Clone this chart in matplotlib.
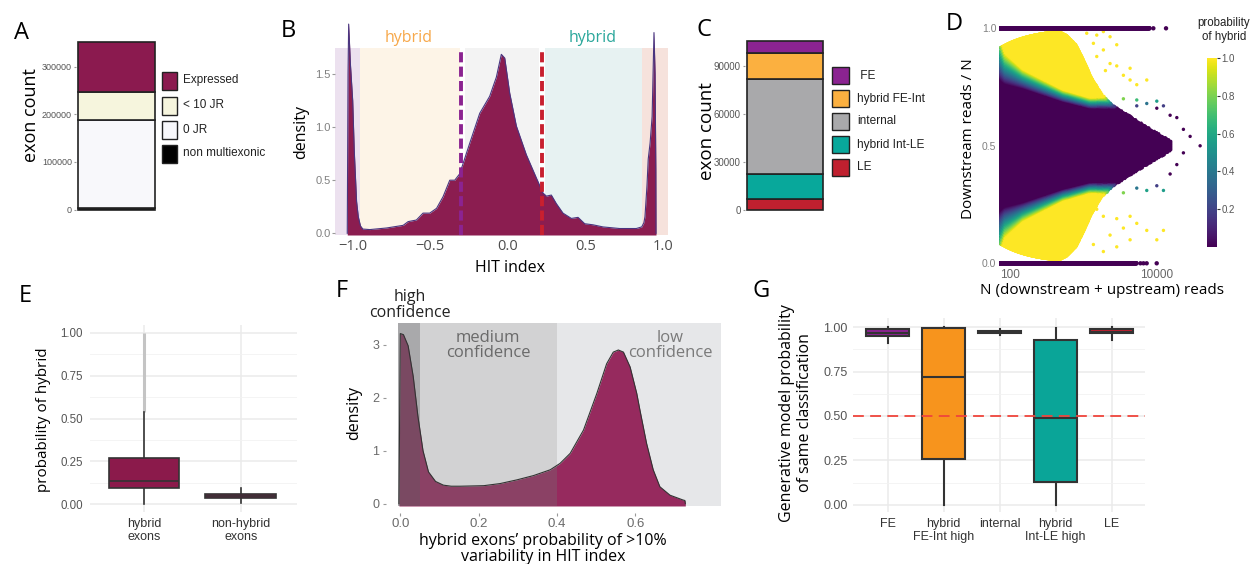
import numpy as np
import matplotlib
matplotlib.use("Agg")
import matplotlib.pyplot as plt
from matplotlib.patches import Rectangle

# ---------------- data ----------------
# A: exon counts by expression status (stacked bottom -> top)
a_labels = ['non multiexonic', '0 JR', '< 10 JR', 'Expressed']
a_counts = [4000, 184000, 59000, 105000]
a_colors = ['#000000', '#f8f8fb', '#f6f5dd', '#8b1a4f']

# B: density of HIT index
b_hit = [-1.035, -1.030, -1.026, -1.015, -1.000, -0.990, -0.975, -0.964, -0.950, -0.935,
         -0.890, -0.782, -0.675, -0.643, -0.590, -0.547, -0.504, -0.460, -0.418, -0.375,
         -0.343, -0.311, -0.246, -0.182, -0.118, -0.075, -0.043, -0.021, 0.011, 0.054,
         0.118, 0.183, 0.225, 0.247, 0.279, 0.311, 0.354, 0.408, 0.451, 0.494,
         0.547, 0.612, 0.719, 0.826, 0.861, 0.875, 0.882, 0.895, 0.903, 0.915,
         0.928, 0.940, 0.947, 0.952, 0.953]
b_density = [0.0, 1.50, 1.97, 1.60, 1.25, 0.78, 0.30, 0.156, 0.07, 0.04,
             0.035, 0.05, 0.075, 0.11, 0.125, 0.19, 0.19, 0.235, 0.345, 0.50,
             0.50, 0.56, 0.85, 1.13, 1.29, 1.47, 1.685, 1.65, 1.32, 1.01,
             0.74, 0.52, 0.38, 0.35, 0.36, 0.28, 0.19, 0.14, 0.15, 0.09,
             0.08, 0.06, 0.045, 0.045, 0.06, 0.10, 0.156, 0.45, 0.70, 0.85,
             1.10, 1.89, 1.50, 0.60, 0.0]
b_zone_lo = [-1.114, -0.950, -0.277, 0.238, 0.861]
b_zone_hi = [-0.950, -0.310, 0.202, 0.861, 1.030]
b_zone_colors = ['#ece1ef', '#fdf4e7', '#f3f3f3', '#e7f2f2', '#f6e2dc']
b_cut_fe, b_cut_le = -0.30, 0.22

# C: exon counts by classification (stacked bottom -> top)
c_labels = ['LE', 'hybrid Int-LE', 'internal', 'hybrid FE-Int', ' FE']
c_counts = [6800, 15300, 59400, 16200, 7900]
c_colors = ['#c0202f', '#08a89b', '#a9a9ab', '#fbb040', '#8b2391']

# D: read totals / downstream fraction lattice description
d_kmin = 6
d_env_N = [68, 300, 450, 600, 800, 1000, 1300, 1800, 2500, 3500, 5000, 7500, 11000, 16000]
d_env_half = [0.50, 0.50, 0.49, 0.47, 0.43, 0.37, 0.29, 0.22, 0.175, 0.145, 0.115, 0.08, 0.05, 0.02]
d_mid_N = [68, 85, 150, 530, 1230, 4350, 40000]
d_mid_half = [0.39, 0.33, 0.287, 0.216, 0.185, 0.185, 0.19]
d_ramp = [0.20, 0.13, 0.08, 0.05, 0.045, 0.05, 0.06]
d_top_end, d_bottom_end = 8000, 5350
d_top_extra_N = [9000, 13400]
d_bottom_extra_N = [6000, 6600, 7300, 10000]
d_sparse_N = [1112, 1523, 1875, 2313, 1371, 1875, 2852, 2313, 2852, 3516, 4337, 5348, 7320, 1523, 2000, 4337,
              3516, 5348, 7320, 10030, 12360, 5348, 10030,
              15240, 18800, 23130, 28560, 39080, 23130, 18800, 15240,
              1523, 1875, 2852, 3516, 4337, 5348, 7320, 10030, 12360, 2313, 1371, 1875, 2852, 4337,
              3516, 5348, 7320, 10030, 12360]
d_sparse_frac = [0.979, 0.971, 0.986, 0.964, 0.936, 0.908, 0.930, 0.850, 0.840, 0.800, 0.780, 0.760, 0.780, 0.880, 0.820, 0.830,
                 0.700, 0.695, 0.680, 0.690, 0.670, 0.670, 0.660,
                 0.630, 0.620, 0.570, 0.540, 0.500, 0.470, 0.420, 0.380,
                 0.230, 0.200, 0.190, 0.150, 0.200, 0.170, 0.140, 0.100, 0.140, 0.120, 0.080, 0.050, 0.070, 0.100,
                 0.300, 0.320, 0.310, 0.330, 0.310]

# E: probability of hybrid, box statistics
e_groups = ['hybrid\nexons', 'non-hybrid\nexons']
e_whislo = [0.0, 0.008]
e_q1 = [0.093, 0.038]
e_med = [0.136, 0.050]
e_q3 = [0.272, 0.062]
e_whishi = [0.54, 0.095]
e_flier_max = [1.0, 0.095]

# F: density of probability of >10% variability
f_prob = [-0.0035, 0.0, 0.008, 0.020, 0.033, 0.045, 0.058, 0.072, 0.090, 0.110,
          0.130, 0.153, 0.213, 0.255, 0.298, 0.340, 0.383, 0.408, 0.434, 0.468,
          0.502, 0.527, 0.544, 0.557, 0.570, 0.587, 0.604, 0.612, 0.629, 0.646,
          0.663, 0.689, 0.722, 0.727, 0.728]
f_density = [0.0, 3.21, 3.19, 2.98, 2.40, 1.65, 1.00, 0.60, 0.42, 0.35,
             0.33, 0.33, 0.34, 0.38, 0.45, 0.53, 0.64, 0.76, 0.95, 1.39,
             2.08, 2.64, 2.86, 2.90, 2.86, 2.58, 2.08, 1.77, 1.14, 0.64,
             0.32, 0.16, 0.07, 0.06, 0.0]
f_high_cut, f_med_cut, f_end = 0.051, 0.40, 0.818

# G: generative model probability of same classification
g_classes = ['FE', 'hybrid\nFE-Int high', 'internal', 'hybrid\nInt-LE high', 'LE']
g_whislo = [0.914, 0.0, 0.955, 0.0, 0.929]
g_q1 = [0.951, 0.256, 0.970, 0.126, 0.966]
g_med = [0.966, 0.718, 0.976, 0.487, 0.976]
g_q3 = [0.989, 0.994, 0.981, 0.929, 0.992]
g_whishi = [1.0, 1.0, 0.990, 0.994, 1.0]
g_colors = ['#8b2391', '#f7941d', '#a8a8aa', '#0aa598', '#c0202f']

# ---------------- layout helpers ----------------
W, H = 1252, 564
plt.rcParams['font.family'] = ['Open Sans', 'DejaVu Sans']
HELV = ['Liberation Sans', 'DejaVu Sans']
fig = plt.figure(figsize=(W / 100, H / 100), dpi=100)


def add_ax(l, t, r, b, **kw):
    ax = fig.add_axes([l / W, 1 - b / H, (r - l) / W, (b - t) / H], **kw)
    ax.set_facecolor('none')
    for s in ax.spines.values():
        s.set_visible(False)
    return ax


def lin_lims(v0, p0, v1, p1, pa, pb):
    k = (v1 - v0) / (p1 - p0)
    return v0 + (pa - p0) * k, v0 + (pb - p0) * k


def ftext(x, y, s, **kw):
    return fig.text(x / W, 1 - y / H, s, **kw)


def frect(x0, y0, x1, y1, **kw):
    fig.add_artist(Rectangle((x0 / W, 1 - y1 / H), (x1 - x0) / W, (y1 - y0) / H,
                             transform=fig.transFigure, **kw))


def tick_font(ax, axis, family=HELV):
    labs = ax.get_yticklabels() if axis == 'y' else ax.get_xticklabels()
    for t in labs:
        t.set_family(family)


# panel letters
for lab, x, y in [('A', 21, 39), ('B', 288, 37), ('C', 704, 36), ('D', 954, 30),
                  ('E', 25, 302), ('F', 342, 297), ('G', 761, 297)]:
    ftext(x, y, lab, fontsize=17, ha='center', va='baseline')

# ---------------- A ----------------
axA = add_ax(76, 30, 157, 212)
bottom = 0
for n, c in zip(a_counts, a_colors):
    axA.bar(0, n, bottom=bottom, width=1, color=c, edgecolor='#222222', lw=1.2)
    bottom += n
axA.set_xlim(-0.5 - 2 / 77, 0.5 + 2 / 77)
axA.set_ylim(*lin_lims(0, 209.5, 300000, 66.8, 212, 30))
axA.set_xticks([])
axA.set_yticks([0, 100000, 200000, 300000])
axA.set_yticklabels(['0', '100000', '200000', '300000'])
axA.tick_params(axis='y', length=1.5, pad=1.5, labelsize=6.5, labelcolor='#555555', color='#999999')
tick_font(axA, 'y')
ftext(31, 115, 'exon count', rotation=90, ha='center', va='center', fontsize=13)
for lab, c, yc in zip(a_labels[::-1], a_colors[::-1], [80.5, 105.5, 129.5, 153.5]):
    frect(161.7, yc - 9, 177.3, yc + 9, facecolor=c, edgecolor='#222222', lw=1.0)
    ftext(183, yc, lab, fontsize=8.5, va='center', ha='left', family=HELV, color='#222222')

# ---------------- B ----------------
axB = add_ax(335, 15, 668, 235)
axB.set_xlim(*lin_lims(-1.0, 352.7, 1.0, 663.3, 335, 668))
axB.set_ylim(*lin_lims(0.0, 233.3, 1.5, 74.0, 235, 15))
y_lo, y_hi = -0.016, 1.748
for lo, hi, c in zip(b_zone_lo, b_zone_hi, b_zone_colors):
    axB.fill_between([lo, hi], y_lo, y_hi, color=c, lw=0, zorder=0)
axB.fill_between(b_hit, y_lo, b_density, color='#8b1d50', lw=0, zorder=2)
axB.plot(b_hit, b_density, color='#4a3580', lw=0.8, zorder=3)
axB.plot([b_cut_fe, b_cut_fe], [y_lo, y_hi], color='#8b2391', lw=2.8, ls=(0, (2.6, 1.1)), zorder=4)
axB.plot([b_cut_le, b_cut_le], [y_lo, y_hi], color='#c8202f', lw=2.8, ls=(0, (2.6, 1.1)), zorder=4)
axB.set_xticks([-1.0, -0.5, 0.0, 0.5, 1.0])
axB.set_xticklabels(['\u22121.0', '\u22120.5', '0.0', '0.5', '1.0'])
axB.tick_params(axis='x', length=0, pad=3, labelsize=10.5, labelcolor='#4d4d4d')
axB.set_yticks([0.0, 0.5, 1.0, 1.5])
axB.set_yticklabels(['0.0', '0.5', '1.0', '1.5'])
axB.tick_params(axis='y', length=2, pad=1, labelsize=8, labelcolor='#808080', color='#999999')
tick_font(axB, 'y')
ftext(301, 132, 'density', rotation=90, ha='center', va='center', fontsize=11.5)
ftext(510, 268, 'HIT index', ha='center', va='center', fontsize=11.5)
ftext(409, 38, 'hybrid', ha='center', va='center', fontsize=11.5, color='#f7a84a')
ftext(593, 38, 'hybrid', ha='center', va='center', fontsize=11.5, color='#2aa79b')

# ---------------- C ----------------
axC = add_ax(745, 30, 825, 213)
bottom = 0
for n, c in zip(c_counts, c_colors):
    axC.bar(0, n, bottom=bottom, width=1, color=c, edgecolor='#222222', lw=1.2)
    bottom += n
axC.set_xlim(-0.5 - 2.2 / 75.4, 0.5 + 2.2 / 75.4)
axC.set_ylim(*lin_lims(0, 209.5, 90000, 65.5, 213, 30))
axC.set_xticks([])
axC.set_yticks([0, 30000, 60000, 90000])
axC.set_yticklabels(['0', '30000', '60000', '90000'])
axC.tick_params(axis='y', length=1.5, pad=1.5, labelsize=7, labelcolor='#555555', color='#999999')
tick_font(axC, 'y')
ftext(707, 131, 'exon count', rotation=90, ha='center', va='center', fontsize=13.5)
for lab, c, yc in zip(c_labels[::-1], c_colors[::-1], [75.8, 98.8, 121.0, 144.7, 167.2]):
    frect(831.7, yc - 8.5, 849.3, yc + 8.5, facecolor=c, edgecolor='#222222', lw=1.0)
    ftext(857, yc, lab, fontsize=8.6, va='center', ha='left', family=HELV, color='#222222')

# ---------------- D ----------------
def hybrid_prob(n, f):
    ln = np.log10(np.asarray(n, float))
    mid = np.interp(ln, np.log10(d_mid_N), d_mid_half)
    rmp = np.interp(ln, np.log10(d_mid_N), d_ramp)
    return np.clip(0.5 + (np.abs(np.asarray(f, float) - 0.5) - mid) / rmp, 0.0, 1.0)


n_parts, f_parts, s_parts = [], [], []
for n in range(68, 301):                      # every total, every admissible count
    k = np.arange(d_kmin, n - d_kmin + 1)
    n_parts.append(np.full(k.size, n))
    f_parts.append(k / n)
    s_parts.append(np.full(k.size, 3.0))
n = 300.0
while n < 1500:                               # denser totals: thinned counts
    ni = int(round(n))
    k = np.arange(d_kmin, ni - d_kmin + 1, max(1, ni // 300))
    n_parts.append(np.full(k.size, ni))
    f_parts.append(k / ni)
    s_parts.append(np.full(k.size, 3.5))
    n *= 1.010
while n < 16000:                              # high totals: coarse lattice
    ni = int(round(n))
    k = np.arange(d_kmin, ni - d_kmin + 1, max(1, int(ni * 0.006)))
    n_parts.append(np.full(k.size, ni))
    f_parts.append(k / ni)
    s_parts.append(np.full(k.size, 5.0))
    n *= 1.035
DN = np.concatenate(n_parts).astype(float)
DF = np.concatenate(f_parts)
DS = np.concatenate(s_parts)
keep = np.abs(DF - 0.5) <= np.interp(np.log10(DN), np.log10(d_env_N), d_env_half)
DN, DF, DS = DN[keep], DF[keep], DS[keep]
DP = hybrid_prob(DN, DF)
order = np.argsort(DP, kind='stable')

axD = add_ax(999, 24, 1203, 268)
axD.set_xscale('log')
lx = lin_lims(2.0, 1010.0, 4.0, 1156.7, 999, 1203)
axD.set_xlim(10 ** lx[0], 10 ** lx[1])
axD.set_ylim(*lin_lims(0.0, 263.3, 1.0, 28.3, 268, 24))
sc = axD.scatter(DN[order], DF[order], c=DP[order], cmap='viridis', vmin=0, vmax=1,
                 s=DS[order], linewidths=0, rasterized=True, zorder=2)
sp_p = hybrid_prob(d_sparse_N, d_sparse_frac)
axD.scatter(d_sparse_N, d_sparse_frac, c=sp_p, cmap='viridis', vmin=0, vmax=1,
            s=6, linewidths=0, zorder=3)
top_N = np.concatenate([68 * 1.01 ** np.arange(0, np.log(d_top_end / 68) / np.log(1.01)), d_top_extra_N])
bot_N = np.concatenate([68 * 1.01 ** np.arange(0, np.log(d_bottom_end / 68) / np.log(1.01)), d_bottom_extra_N])
axD.scatter(top_N, np.ones_like(top_N), c=np.zeros_like(top_N), cmap='viridis', vmin=0, vmax=1,
            s=10, linewidths=0, zorder=4)
axD.scatter(bot_N, np.zeros_like(bot_N), c=np.zeros_like(bot_N), cmap='viridis', vmin=0, vmax=1,
            s=10, linewidths=0, zorder=4)
axD.set_xticks([100, 10000])
axD.set_xticklabels(['100', '10000'])
axD.xaxis.set_minor_locator(matplotlib.ticker.NullLocator())
axD.tick_params(axis='x', length=0, pad=1, labelsize=8.5, labelcolor='#666666')
axD.set_yticks([0.0, 0.5, 1.0])
axD.set_yticklabels(['0.0', '0.5', '1.0'])
axD.tick_params(axis='y', length=0, pad=2, labelsize=7.5, labelcolor='#808080')
tick_font(axD, 'y')
tick_font(axD, 'x')
ftext(969, 139, 'Downstream reads / N', rotation=90, ha='center', va='center', fontsize=11)
ftext(1102, 291, 'N (downstream + upstream) reads', ha='center', va='center', fontsize=11)
cax = add_ax(1206.7, 58.3, 1216.7, 246.7)
cb = fig.colorbar(sc, cax=cax, ticks=[0.2, 0.4, 0.6, 0.8, 1.0])
cb.outline.set_visible(False)
cb.ax.set_yticklabels(['0.2', '0.4', '0.6', '0.8', '1.0'])
cax.tick_params(length=2, width=0.8, pad=1.5, labelsize=7, labelcolor='#555555', color='#333333')
tick_font(cax, 'y')
ftext(1224, 30, 'probability\nof hybrid', ha='center', va='center', fontsize=8.3,
      family=HELV, color='#222222', linespacing=1.25)


# ---------------- boxplot helper ----------------
def draw_boxes(ax, pos, lo, q1, med, q3, hi, colors, width, lw):
    stats = [dict(whislo=a, q1=b, med=c, q3=d, whishi=e, fliers=[])
             for a, b, c, d, e in zip(lo, q1, med, q3, hi)]
    art = ax.bxp(stats, positions=pos, widths=width, patch_artist=True, showcaps=False,
                 showfliers=False,
                 boxprops=dict(edgecolor='#333333', linewidth=lw),
                 medianprops=dict(color='#333333', linewidth=lw),
                 whiskerprops=dict(color='#333333', linewidth=lw))
    for patch, c in zip(art['boxes'], colors):
        patch.set_facecolor(c)
        patch.set_zorder(3)
    for m in art['medians']:
        m.set_zorder(4)
    return art


def minimal_grid(ax, yt, yminor):
    ax.set_yticks(yt)
    ax.set_yticks(yminor, minor=True)
    ax.grid(True, which='major', color='#ebebeb', lw=1.1)
    ax.grid(True, which='minor', axis='y', color='#f2f2f2', lw=0.6)
    ax.set_axisbelow(True)
    ax.tick_params(which='both', length=0)


# ---------------- E ----------------
axE = add_ax(90, 325, 297, 512)
axE.set_xlim(*lin_lims(0, 144, 1, 240.7, 90, 297))
axE.set_ylim(*lin_lims(0.0, 504.3, 1.0, 332.7, 512, 325))
minimal_grid(axE, [0, 0.25, 0.5, 0.75, 1.0], [0.125, 0.375, 0.625, 0.875])
axE.vlines([0, 1], e_whishi, e_flier_max, color='#c4c4c4', lw=2.2, zorder=2)
draw_boxes(axE, [0, 1], e_whislo, e_q1, e_med, e_q3, e_whishi, ['#8b1a4b', '#8b1a4b'], 0.73, 1.2)
axE.set_xticks([0, 1])
axE.set_xticklabels(e_groups)
axE.set_yticklabels(['0.00', '0.25', '0.50', '0.75', '1.00'])
axE.tick_params(axis='y', pad=5, labelsize=8.3, labelcolor='#555555')
axE.tick_params(axis='x', pad=4, labelsize=9, labelcolor='#333333')
tick_font(axE, 'x')
tick_font(axE, 'y')
ftext(43.5, 420, 'probability of hybrid', rotation=90, ha='center', va='center', fontsize=11)

# ---------------- F ----------------
axF = add_ax(398, 323, 721, 506)
axF.set_xlim(*lin_lims(0.0, 400.3, 0.2, 478.6, 398, 721))
axF.set_ylim(*lin_lims(0.0, 503.7, 1.0, 450.7, 506, 323))
fy_lo, fy_hi = -0.043, 3.41
axF.fill_between([f_med_cut, f_end], fy_lo, fy_hi, color='#e6e7e9', lw=0, zorder=0)
axF.fill_between(f_prob, fy_lo, f_density, color='#962a5e', lw=0, zorder=1)
axF.fill_between([-0.006, f_high_cut], fy_lo, fy_hi, color='#636366', alpha=0.55, lw=0, zorder=2)
axF.fill_between([f_high_cut, f_med_cut], fy_lo, fy_hi, color='#747476', alpha=0.32, lw=0, zorder=2)
axF.plot(f_prob, f_density, color='#333333', lw=0.8, zorder=3)
axF.text(0.224, 2.98, 'medium\nconfidence', ha='center', va='center', fontsize=12,
         color='#6a6a6a', linespacing=0.95)
axF.text(0.689, 2.98, 'low\nconfidence', ha='center', va='center', fontsize=12,
         color='#7a7a7a', linespacing=0.95)
ftext(410, 305, 'high\nconfidence', ha='center', va='center', fontsize=11.5, color='#222222',
      linespacing=0.95)
axF.spines['bottom'].set_position(('outward', 5))
axF.spines['left'].set_position(('outward', 8.5))
axF.set_xticks([0.0, 0.2, 0.4, 0.6])
axF.set_xticklabels(['0.0', '0.2', '0.4', '0.6'])
axF.set_yticks([0, 1, 2, 3])
axF.set_yticklabels(['0', '1', '2', '3'])
axF.tick_params(axis='x', length=2.5, pad=1, labelsize=9.5, labelcolor='#6a6a6a', color='#999999')
axF.tick_params(axis='y', length=2, pad=3, labelsize=9, labelcolor='#6a6a6a', color='#999999')
tick_font(axF, 'x')
tick_font(axF, 'y')
ftext(354, 413, 'density', rotation=90, ha='center', va='center', fontsize=11.5)
ftext(543, 549, 'hybrid exons\u2019 probability of >10%\nvariability in HIT index',
      ha='center', va='center', fontsize=11.5, linespacing=1.0)

# ---------------- G ----------------
axG = add_ax(853.3, 318, 1145, 512)
axG.set_xlim(*lin_lims(0, 887.7, 1, 943.7, 853.3, 1145))
axG.set_ylim(*lin_lims(0.0, 504.7, 1.0, 327.3, 512, 318))
minimal_grid(axG, [0, 0.25, 0.5, 0.75, 1.0], [0.125, 0.375, 0.625, 0.875])
draw_boxes(axG, list(range(5)), g_whislo, g_q1, g_med, g_q3, g_whishi, g_colors, 0.76, 1.5)
axG.axhline(0.5, color='#f0453c', lw=1.3, ls=(0, (6, 3.5)), zorder=5)
axG.set_xticks(list(range(5)))
axG.set_xticklabels(g_classes)
axG.set_yticklabels(['0.00', '0.25', '0.50', '0.75', '1.00'])
axG.tick_params(axis='y', pad=4, labelsize=9, labelcolor='#555555')
axG.tick_params(axis='x', pad=4, labelsize=9, labelcolor='#333333')
tick_font(axG, 'x')
tick_font(axG, 'y')
ftext(796, 413, 'Generative model probability\nof same classification', rotation=90,
      ha='center', va='center', fontsize=11.5, linespacing=1.1)

fig.savefig('out.png', dpi=100)
